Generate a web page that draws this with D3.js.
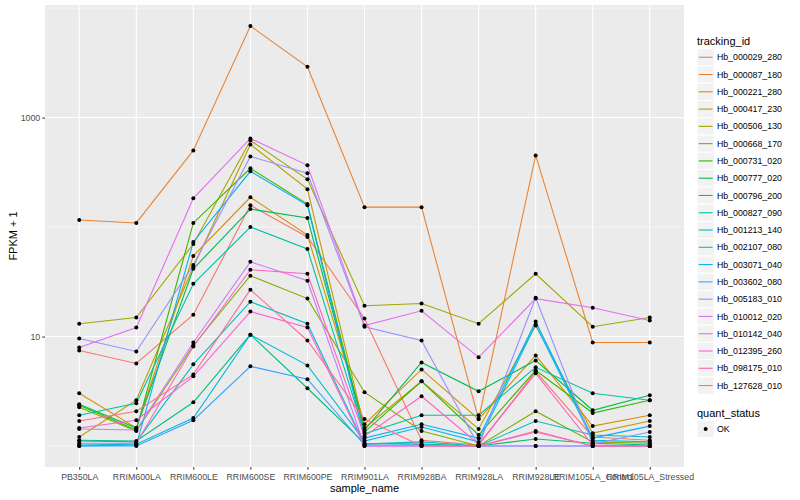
<!DOCTYPE html>
<html>
<head>
<meta charset="utf-8">
<script src="https://cdn.jsdelivr.net/npm/d3@7"></script>
<style>
  body { margin: 0; background: #fff; }
  text { font-family: "Liberation Sans", Arial, sans-serif; }
</style>
</head>
<body>
<div id="chart"></div>
<script>
// sample order on the x axis
const samples = ["PB350LA", "RRIM600LA", "RRIM600LE", "RRIM600SE", "RRIM600PE", "RRIM901LA",
  "RRIM928BA", "RRIM928LA", "RRIM928LE", "RRIM105LA_Control", "RRIM105LA_Stressed"];

const trackingIds = ["Hb_000029_280", "Hb_000087_180", "Hb_000221_280", "Hb_000417_230", "Hb_000506_130",
  "Hb_000668_170", "Hb_000731_020", "Hb_000777_020", "Hb_000796_200", "Hb_000827_090",
  "Hb_001213_140", "Hb_002107_080", "Hb_003071_040", "Hb_003602_080", "Hb_005183_010",
  "Hb_010012_020", "Hb_010142_040", "Hb_012395_260", "Hb_098175_010", "Hb_127628_010"];

// FPKM + 1, one value per sample
const hb_000029_280 = [7.46, 5.68, 15.8, 158, 81.1, 14.6, 1.13, 1.02, 4.81, 1.21, 1.13];
const hb_000087_180 = [116, 109, 501, 6861, 2908, 152, 152, 1.76, 451, 8.82, 8.82];
const hb_000221_280 = [3.03, 1.46, 54.5, 187, 84.6, 1.58, 5.01, 1.76, 6.72, 1.52, 1.91];
const hb_000417_230 = [1.21, 2.62, 43.3, 568, 222, 1.46, 3.90, 1.43, 12.6, 1.31, 1.69];
const hb_000506_130 = [13.1, 14.9, 70.0, 618, 273, 19.1, 20.0, 13.1, 37.4, 12.3, 14.9];
const hb_000668_170 = [2.26, 1.37, 8.28, 35.9, 22.2, 3.10, 1.37, 1.00, 2.08, 1.09, 1.06];
const hb_000731_020 = [2.36, 1.40, 109, 344, 162, 1.34, 3.90, 1.26, 4.91, 2.00, 2.62];
const hb_000777_020 = [2.41, 1.46, 41.5, 146, 121, 1.40, 5.80, 3.16, 6.05, 2.12, 2.91];
const hb_000796_200 = [1.13, 1.11, 2.51, 10.4, 3.37, 1.06, 1.04, 1.00, 1.16, 1.06, 1.02];
const hb_000827_090 = [1.91, 2.46, 30.3, 100, 63.1, 1.29, 1.91, 1.91, 5.23, 3.03, 2.62];
const hb_001213_140 = [1.11, 1.09, 5.57, 20.8, 13.1, 1.04, 1.09, 1.00, 1.69, 1.26, 1.21];
const hb_002107_080 = [1.02, 1.04, 1.80, 10.4, 5.45, 1.11, 1.49, 1.09, 12.9, 1.13, 1.09];
const hb_003071_040 = [1.00, 1.02, 73.1, 323, 158, 1.18, 1.58, 1.18, 13.7, 1.18, 1.52];
const hb_003602_080 = [1.00, 1.00, 1.72, 5.34, 4.07, 1.02, 1.02, 1.00, 1.00, 1.00, 1.00];
const hb_005183_010 = [9.59, 7.30, 45.1, 442, 310, 12.3, 9.20, 1.00, 22.6, 1.04, 1.34];
const hb_010012_020 = [1.43, 1.40, 8.82, 48.1, 32.3, 1.00, 1.00, 1.00, 1.00, 1.00, 1.00];
const hb_010142_040 = [7.94, 12.1, 183, 644, 366, 12.6, 17.2, 6.45, 22.2, 18.3, 14.0];
const hb_012395_260 = [1.46, 1.72, 4.33, 16.9, 12.1, 1.00, 1.00, 1.00, 1.34, 1.00, 1.00];
const hb_098175_010 = [1.06, 1.06, 8.11, 40.7, 37.4, 1.23, 2.85, 1.04, 4.61, 1.02, 1.00];
const hb_127628_010 = [1.69, 2.08, 4.51, 26.8, 9.20, 1.76, 1.00, 1.00, 1.37, 1.00, 1.00];

const quantStatus = ["OK"];
const yTicks = [10, 1000];
const yMinor = [1, 100, 10000];

const seriesValues = [hb_000029_280, hb_000087_180, hb_000221_280, hb_000417_230, hb_000506_130,
  hb_000668_170, hb_000731_020, hb_000777_020, hb_000796_200, hb_000827_090,
  hb_001213_140, hb_002107_080, hb_003071_040, hb_003602_080, hb_005183_010,
  hb_010012_020, hb_010142_040, hb_012395_260, hb_098175_010, hb_127628_010];

// ggplot default hue palette for 20 groups
const hueColors = ["#F8766D", "#EA8331", "#D89000", "#C09B00", "#A3A500", "#7CAE00", "#39B600",
  "#00BB4E", "#00BF7D", "#00C1A3", "#00BFC4", "#00BAE0", "#00B0F6", "#35A2FF", "#9590FF",
  "#C77CFF", "#E76BF3", "#FA62DB", "#FF62BC", "#FF6C91"];

const series = trackingIds.map((id, i) => ({ id: id, color: hueColors[i], values: seriesValues[i] }));

const width = 800, height = 500;
const panel = { left: 45, right: 684, top: 5, bottom: 467 };

const svg = d3.select("#chart").append("svg")
  .attr("width", width)
  .attr("height", height);

//Scales
const x = d3.scalePoint()
  .domain(samples)
  .range([panel.left, panel.right])
  .padding(0.6);

const allValues = seriesValues.flat();
const logLo = Math.log10(d3.min(allValues));
const logHi = Math.log10(d3.max(allValues));
const logPad = (logHi - logLo) * 0.05;
const y = d3.scaleLog()
  .domain([Math.pow(10, logLo - logPad), Math.pow(10, logHi + logPad)])
  .range([panel.bottom, panel.top]);

//Panel and grid
svg.append("rect")
  .attr("x", panel.left).attr("y", panel.top)
  .attr("width", panel.right - panel.left).attr("height", panel.bottom - panel.top)
  .attr("fill", "#EBEBEB");

const grid = svg.append("g");
grid.selectAll("line.minor").data(yMinor).enter().append("line")
  .attr("class", "minor")
  .attr("x1", panel.left).attr("x2", panel.right)
  .attr("y1", d => y(d)).attr("y2", d => y(d))
  .attr("stroke", "#fff").attr("stroke-width", 0.55);
grid.selectAll("line.majorY").data(yTicks).enter().append("line")
  .attr("class", "majorY")
  .attr("x1", panel.left).attr("x2", panel.right)
  .attr("y1", d => y(d)).attr("y2", d => y(d))
  .attr("stroke", "#fff").attr("stroke-width", 1.1);
grid.selectAll("line.majorX").data(samples).enter().append("line")
  .attr("class", "majorX")
  .attr("x1", d => x(d)).attr("x2", d => x(d))
  .attr("y1", panel.top).attr("y2", panel.bottom)
  .attr("stroke", "#fff").attr("stroke-width", 1.1);

//Axes
const yAxis = d3.axisLeft(y)
  .tickValues(yTicks)
  .tickFormat(d3.format("d"))
  .tickSize(2.75)
  .tickPadding(2);
const xAxis = d3.axisBottom(x)
  .tickSize(2.75)
  .tickPadding(4);

const gy = svg.append("g")
  .attr("transform", "translate(" + panel.left + ",0)")
  .call(yAxis);
const gx = svg.append("g")
  .attr("transform", "translate(0," + panel.bottom + ")")
  .call(xAxis);
[gx, gy].forEach(g => {
  g.select(".domain").remove();
  g.selectAll(".tick line").attr("stroke", "#333333").attr("stroke-width", 1);
  g.selectAll(".tick text")
    .attr("fill", "#4D4D4D")
    .attr("font-size", 8.8)
    .attr("font-family", "'Liberation Sans', Arial, sans-serif");
});

svg.append("text")
  .attr("transform", "translate(17," + ((panel.top + panel.bottom) / 2) + ")rotate(-90)")
  .attr("text-anchor", "middle")
  .attr("font-size", 11)
  .text("FPKM + 1");
svg.append("text")
  .attr("x", (panel.left + panel.right) / 2)
  .attr("y", 492)
  .attr("text-anchor", "middle")
  .attr("font-size", 11)
  .text("sample_name");

//Lines and points
const line = d3.line()
  .x((d, i) => x(samples[i]))
  .y(d => y(d));

svg.append("g").selectAll("path").data(series).enter().append("path")
  .attr("d", d => line(d.values))
  .attr("fill", "none")
  .attr("stroke", d => d.color)
  .attr("stroke-width", 1.1);

const pointGroup = svg.append("g");
series.forEach(s => {
  pointGroup.selectAll(null).data(s.values).enter().append("circle")
    .attr("cx", (d, i) => x(samples[i]))
    .attr("cy", d => y(d))
    .attr("r", 2)
    .attr("fill", "#000");
});

//Legend
const legendX = 697, keySize = 17.28;
const legend = svg.append("g");
legend.append("text")
  .attr("x", legendX).attr("y", 44.5)
  .attr("font-size", 11)
  .text("tracking_id");

const keyTop = 48.6;
const keys = legend.selectAll("g.key").data(series).enter().append("g")
  .attr("class", "key")
  .attr("transform", (d, i) => "translate(" + legendX + "," + (keyTop + i * keySize) + ")");
keys.append("rect")
  .attr("width", keySize).attr("height", keySize)
  .attr("fill", "#F2F2F2").attr("stroke", "#fff").attr("stroke-width", 1);
keys.append("line")
  .attr("x1", 1.7).attr("x2", keySize - 1.7)
  .attr("y1", keySize / 2).attr("y2", keySize / 2)
  .attr("stroke", d => d.color).attr("stroke-width", 1.1);
keys.append("text")
  .attr("x", keySize + 2.6).attr("y", keySize / 2 + 3.1)
  .attr("font-size", 8.8)
  .text(d => d.id);

const qTop = 420.3;
legend.append("text")
  .attr("x", legendX).attr("y", 416.5)
  .attr("font-size", 11)
  .text("quant_status");
const qKeys = legend.selectAll("g.qkey").data(quantStatus).enter().append("g")
  .attr("class", "qkey")
  .attr("transform", (d, i) => "translate(" + legendX + "," + (qTop + i * keySize) + ")");
qKeys.append("rect")
  .attr("width", keySize).attr("height", keySize)
  .attr("fill", "#F2F2F2").attr("stroke", "#fff").attr("stroke-width", 1);
qKeys.append("circle")
  .attr("cx", keySize / 2).attr("cy", keySize / 2)
  .attr("r", 2).attr("fill", "#000");
qKeys.append("text")
  .attr("x", keySize + 2.6).attr("y", keySize / 2 + 3.1)
  .attr("font-size", 8.8)
  .text(d => d);
</script>
</body>
</html>
